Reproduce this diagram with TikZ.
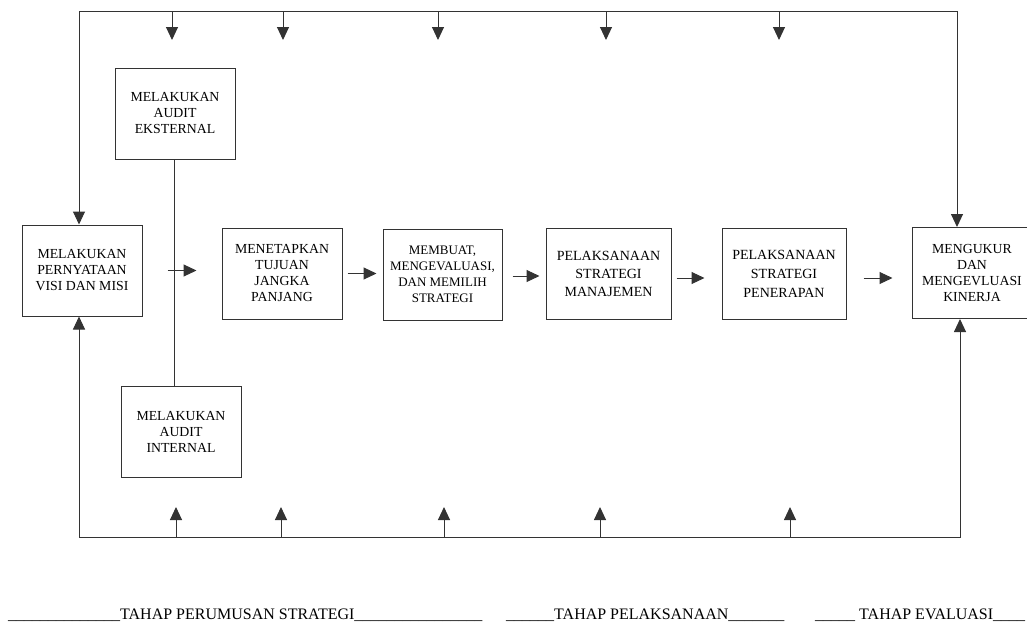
\documentclass[tikz,border=0pt]{standalone}
\usepackage{fontspec}
\setmainfont{Liberation Serif}
\usetikzlibrary{arrows.meta}

\begin{document}
\begin{tikzpicture}[
    x=1pt, y=-1pt,
    box/.style={rectangle, draw=black!80, line width=1pt, minimum width=120pt, minimum height=91pt,
        inner sep=0pt, align=center, font=\fontsize{13.8}{16}\selectfont},
    arr/.style={draw=black!80, line width=1pt, -{Triangle[width=12pt,length=13pt]}},
    link/.style={draw=black!80, line width=1pt},
    phase/.style={anchor=base west, inner sep=0pt, font=\fontsize{16}{18}\selectfont}
]
    \useasboundingbox (0,0) rectangle (1027,624);

    % boxes
    \node[box] (visi) at (82,270.5) {MELAKUKAN\\PERNYATAAN\\VISI DAN MISI};
    \node[box] (ekst) at (175,113.5) {MELAKUKAN\\AUDIT\\EKSTERNAL};
    \node[box] (intr) at (181,431.5) {MELAKUKAN\\AUDIT\\INTERNAL};
    \node[box] (tujuan) at (282,273.5) {MENETAPKAN\\TUJUAN\\JANGKA\\PANJANG};
    \node[box, minimum width=119pt, font=\fontsize{13}{16}\selectfont] (pilih) at (442.5,274.5) {MEMBUAT,\\MENGEVALUASI,\\DAN MEMILIH\\STRATEGI};
    \node[box, minimum width=125pt, font=\fontsize{14}{18}\selectfont] (manaj) at (608.5,273.5) {PELAKSANAAN\\STRATEGI\\MANAJEMEN};
    \node[box, minimum width=124pt, font=\fontsize{14}{19}\selectfont] (terap) at (784,274) {PELAKSANAAN\\STRATEGI\\PENERAPAN};
    \node[box] (ukur) at (972,273) {MENGUKUR\\DAN\\MENGEVLUASI\\KINERJA};

    % frame
    \coordinate (tl) at (79,11);
    \coordinate (tr) at (957,11);
    \coordinate (bl) at (79,537);
    \coordinate (br) at (960,537);
    \draw[arr] (tr) -- (tl) -- (tl |- visi.north);
    \draw[arr] (tl) -- (tr) -- (tr |- ukur.north);
    \draw[arr] (bl) -- (bl |- visi.south);
    \draw[arr] (bl) -- (br) -- (br |- ukur.south);
    \foreach \x [count=\i] in {172,283,438,606,779} {
        \coordinate (d\i) at (\x,11);
        \draw[arr] (d\i) -- ++(0,29);
    }
    \foreach \x [count=\i] in {176,281,444,600,790} {
        \coordinate (u\i) at (\x,537);
        \draw[arr] (u\i) -- ++(0,-30);
    }

    % audit line
    \draw[link] (ekst.south -| 174,0) -- (intr.north -| 174,0);

    % flow
    \draw[arr, shorten <=25pt, shorten >=25pt] (visi.east) -- (visi.east -| tujuan.west);
    \draw[arr, shorten <=5pt, shorten >=6pt] (tujuan.east) -- (tujuan.east -| pilih.west);
    \draw[arr, shorten <=10pt, shorten >=6pt] (pilih.east) ++(0,1.5) coordinate (p1) -- (p1 -| manaj.west);
    \draw[arr, shorten <=5pt, shorten >=17pt] (manaj.east) ++(0,4.5) coordinate (p2) -- (p2 -| terap.west);
    \draw[arr, shorten <=17pt, shorten >=19pt] (terap.east) ++(0,4) coordinate (p3) -- (p3 -| ukur.west);

    % phases
    \node[phase] (rumus) at (8,619) {\_\_\_\_\_\_\_\_\_\_\_\_\_\_TAHAP PERUMUSAN STRATEGI\_\_\_\_\_\_\_\_\_\_\_\_\_\_\_\_};
    \node[phase] (laksana) at (506,619) {\_\_\_\_\_\_TAHAP PELAKSANAAN\_\_\_\_\_\_\_};
    \node[phase] (evaluasi) at (815,619) {\_\_\_\_\_ TAHAP EVALUASI\_\_\_\_};
\end{tikzpicture}
\end{document}
